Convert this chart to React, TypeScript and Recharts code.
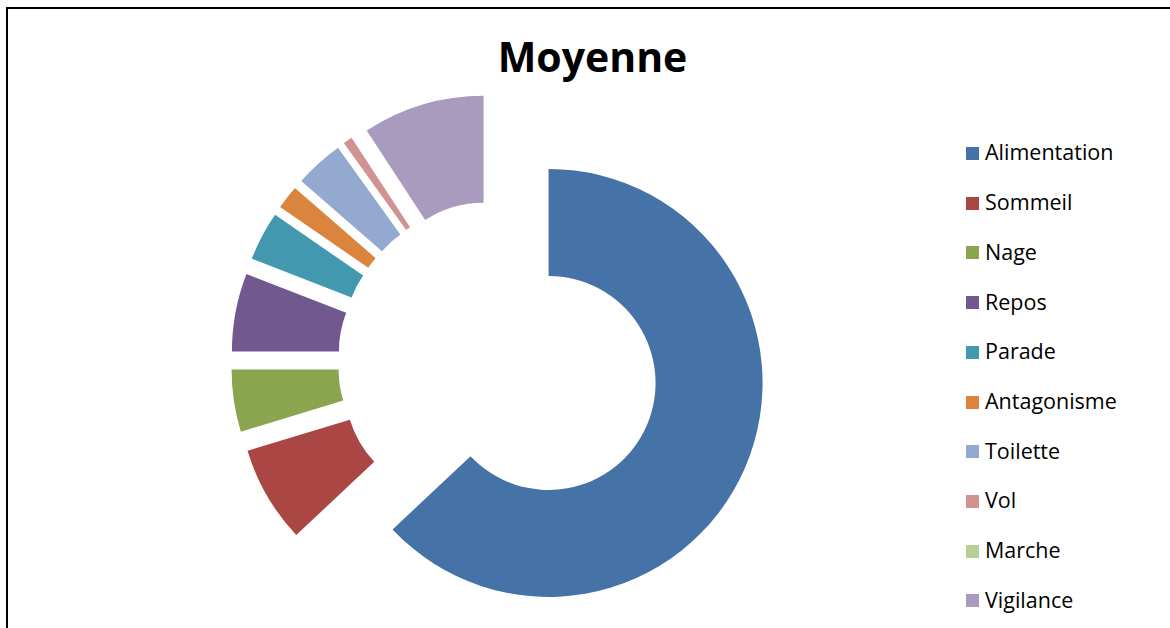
import React from 'react';
import { PieChart, Pie, Cell } from 'recharts';

// Moyenne (%) par activité
const categories = [
  'Alimentation', 'Sommeil', 'Nage', 'Repos', 'Parade',
  'Antagonisme', 'Toilette', 'Vol', 'Marche', 'Vigilance',
];
const moyenne = [63.0, 7.3, 4.7, 5.9, 3.7, 1.8, 3.7, 0.7, 0, 9.2];
const colors = [
  '#4572A7', '#AA4643', '#89A54E', '#71588F', '#4198AF',
  '#DB843D', '#93A9CF', '#D19392', '#B9CD96', '#A99BBD',
];

const W = 1170;
const H = 628;
const CX = 499;
const CY = 361.5;
const EXPLODE = 54;
const FONT = '"Open Sans", "Noto Sans", sans-serif';

const data = categories.map((name, i) => ({ name, value: moyenne[i] }));
const total = moyenne.reduce((a, b) => a + b, 0);

// centre of each exploded slice, pushed out along its mid angle (clockwise from top)
const sliceCenters = moyenne.map((v, i) => {
  const before = moyenne.slice(0, i).reduce((a, b) => a + b, 0);
  const mid = ((before + v / 2) / total) * 2 * Math.PI;
  return { cx: CX + EXPLODE * Math.sin(mid), cy: CY - EXPLODE * Math.cos(mid) };
});

const LegendBox: React.FC = () => (
  <div style={{ position: 'absolute', left: 0, top: 0, fontFamily: FONT }}>
    {categories.map((name, i) => {
      const baseline = 160.5 + 49.7 * i;
      return (
        <div key={name}>
          <div
            style={{
              position: 'absolute', left: 965.5, top: baseline - 13.5,
              width: 13, height: 13, background: colors[i],
            }}
          />
          <div
            style={{
              position: 'absolute', left: 985, top: baseline - 19.1,
              fontSize: 21.5, lineHeight: 1, color: '#000', whiteSpace: 'nowrap',
            }}
          >
            {name}
          </div>
        </div>
      );
    })}
  </div>
);

export default function App() {
  return (
    <div
      style={{
        position: 'absolute', left: 0, top: 0, width: W, height: H,
        overflow: 'hidden', background: '#fff',
      }}
    >
      <div
        style={{
          position: 'absolute', left: 6, top: 7, width: W - 6, height: H - 7,
          boxSizing: 'border-box', borderLeft: '2px solid #000', borderTop: '2px solid #000',
        }}
      />
      <div
        style={{
          position: 'absolute', left: 0, top: 36.3, width: 1185, textAlign: 'center',
          fontFamily: FONT, fontWeight: 700, fontSize: 41, lineHeight: 1, color: '#000',
        }}
      >
        Moyenne
      </div>
      <div style={{ position: 'absolute', left: 0, top: 0 }}>
        <PieChart width={W} height={H} margin={{ top: 0, right: 0, bottom: 0, left: 0 }}>
          {sliceCenters.map((c, j) =>
            moyenne[j] > 0 ? (
              <Pie
                key={categories[j]}
                data={data}
                dataKey="value"
                nameKey="name"
                cx={c.cx}
                cy={c.cy}
                innerRadius={107}
                outerRadius={214}
                startAngle={90}
                endAngle={-270}
                stroke="none"
                isAnimationActive={false}
              >
                {data.map((d, i) => (
                  <Cell key={d.name} fill={i === j ? colors[i] : 'transparent'} stroke="none" />
                ))}
              </Pie>
            ) : null
          )}
        </PieChart>
      </div>
      <LegendBox />
    </div>
  );
}
